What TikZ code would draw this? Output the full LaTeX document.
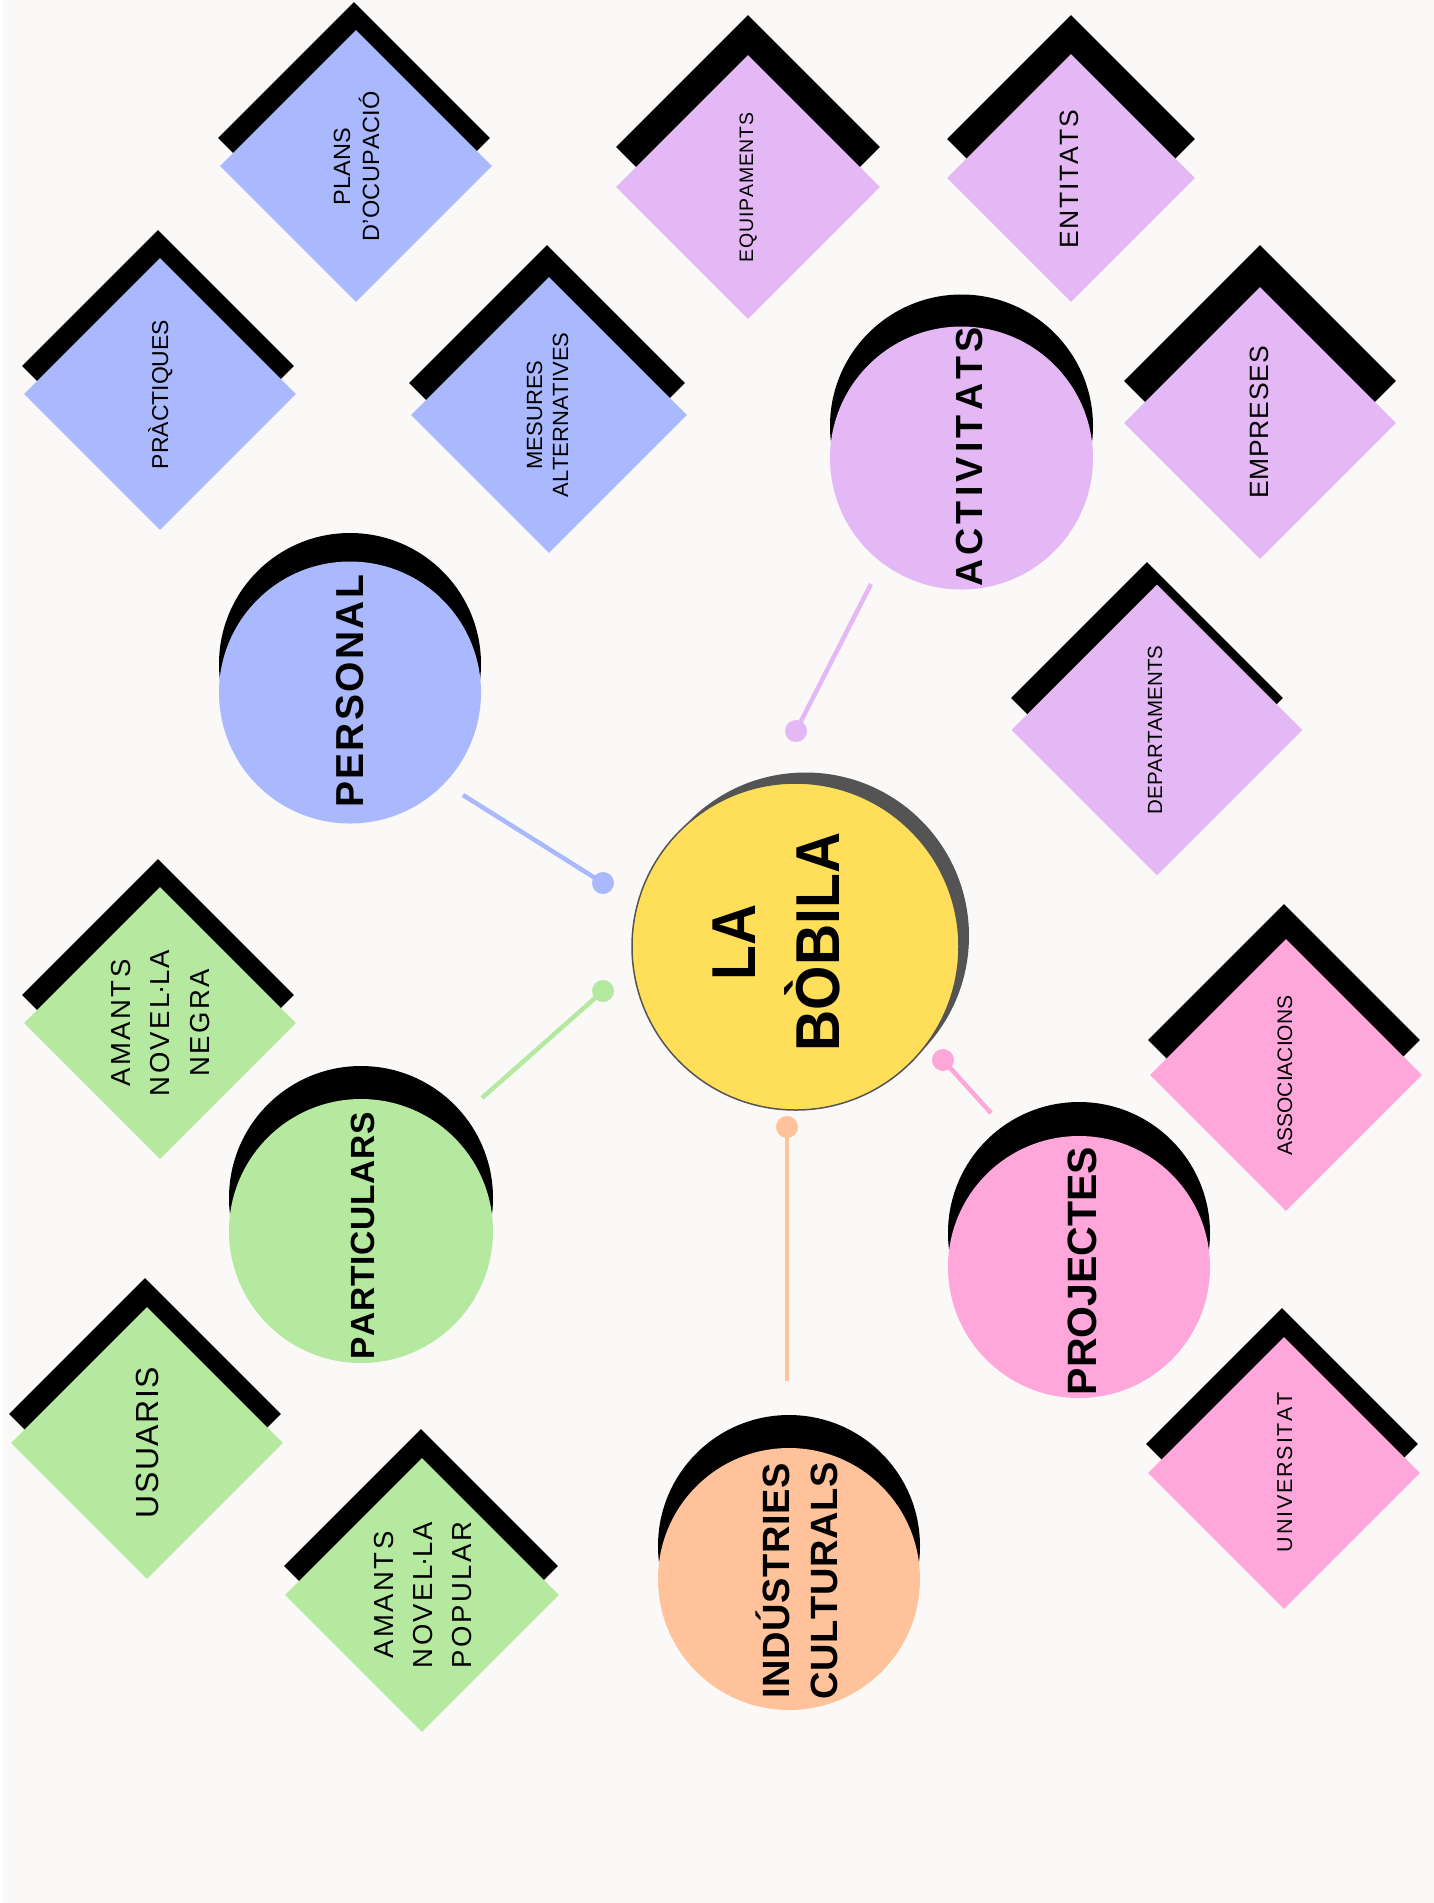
\documentclass[tikz,border=0pt]{standalone}
\usepackage{fontspec}
\setmainfont{Liberation Sans}
\usetikzlibrary{shapes.geometric}
\definecolor{bgc}{HTML}{FAF9F7}
\definecolor{cblue}{HTML}{AAB9FE}
\definecolor{clil}{HTML}{E4B8F4}
\definecolor{cgrn}{HTML}{B4E99F}
\definecolor{cpnk}{HTML}{FFA7DB}
\definecolor{cpch}{HTML}{FFC29A}
\definecolor{cyel}{HTML}{FFDE59}
\definecolor{cdark}{HTML}{545454}
\makeatletter
\newcommand\trk[2]{\def\trk@k{#1}\trk@a#2\trk@end}
\def\trk@end{\trk@end}
\def\trk@a#1{\ifx#1\trk@end\else#1\expandafter\trk@b\fi}
\def\trk@b#1{\ifx#1\trk@end\else\kern\trk@k\relax#1\expandafter\trk@b\fi}
\makeatother
\newcommand\fs[1]{\fontsize{#1}{#1}\selectfont}
\newcommand\novella[1]{\trk{#1}{NOVEL}\kern-0.5pt·\kern-0.5pt\trk{#1}{LA}}
\tikzset{
  dia/.style 2 args={diamond, aspect=1, inner sep=0pt, minimum width=#1, minimum height=#1, fill=#2, draw=none},
  blob/.style 2 args={circle, inner sep=0pt, minimum size=#1, fill=#2, draw=none},
  lbl/.style={inner sep=0pt, anchor=base, rotate=90, text=black},
  conn/.style={line width=2.25pt, draw=#1},
  dotn/.style={circle, inner sep=0pt, minimum size=11pt, fill=#1, draw=none}
}
\begin{document}
\begin{tikzpicture}[x=0.5pt,y=-0.5pt]
\useasboundingbox (0,0) rectangle (1434,1903);
\fill[white] (0,0) rectangle (1434,1903);
\fill[bgc] (3,0) rectangle (1434,1903);

% ---------- diamonds: black shadows ----------
\node[dia={136pt}{black}] (plans-sh) at (354,138) {};
\node[dia={136pt}{black}] (prac-sh) at (158,366) {};
\node[dia={138pt}{black}] (mes-sh) at (547,383) {};
\node[dia={132pt}{black}] (equip-sh) at (748,147) {};
\node[dia={124pt}{black}] (entit-sh) at (1071,139) {};
\node[dia={136pt}{black}] (empr-sh) at (1260,381) {};
\node[dia={136pt}{black}] (dept-sh) at (1147,698) {};
\node[dia={136pt}{black}] (assoc-sh) at (1284,1040) {};
\node[dia={136pt}{black}] (univ-sh) at (1282,1444) {};
\node[dia={136pt}{black}] (usu-sh) at (145,1414) {};
\node[dia={136pt}{black}] (negra-sh) at (158,995) {};
\node[dia={137pt}{black}] (popular-sh) at (421,1566) {};

% ---------- diamonds: coloured ----------
\node[dia={136pt}{cblue}] (plans) at (356,166) {};
\node[dia={136pt}{cblue}] (prac) at (160,394) {};
\node[dia={138pt}{cblue}] (mes) at (549,415) {};
\node[dia={132pt}{clil}] (equip) at (748,187) {};
\node[dia={124pt}{clil}] (entit) at (1071,178) {};
\node[dia={136pt}{clil}] (empr) at (1260,423) {};
\node[dia={145.5pt}{clil}] (dept) at (1157,730) {};
\node[dia={136pt}{cpnk}] (assoc) at (1286,1075) {};
\node[dia={136pt}{cpnk}] (univ) at (1284,1473) {};
\node[dia={136pt}{cgrn}] (usu) at (147,1443) {};
\node[dia={136pt}{cgrn}] (negra) at (160,1023) {};
\node[dia={137pt}{cgrn}] (popular) at (422,1595) {};

% ---------- circles ----------
\node[blob={131pt}{black}] (personal-sh) at (350,664) {};
\node[blob={131pt}{cblue}] (personal) at (350,692.5) {};
\node[blob={131.5pt}{black}] (activ-sh) at (961.5,426) {};
\node[blob={131.5pt}{clil}] (activ) at (961.5,458) {};
\node[blob={132pt}{black}] (partic-sh) at (361,1198) {};
\node[blob={132pt}{cgrn}] (partic) at (361,1231) {};
\node[blob={131pt}{black}] (proj-sh) at (1079,1233) {};
\node[blob={131pt}{cpnk}] (proj) at (1079,1267) {};
\node[blob={131pt}{black}] (ind-sh) at (789,1546) {};
\node[blob={131pt}{cpch}] (ind) at (789,1579) {};
\node[blob={163.5pt}{cdark}] (center-sh) at (805.5,936) {};
\node[circle, inner sep=0pt, minimum size=163.5pt, fill=cyel, draw=cdark, line width=0.75pt] (center) at (795.5,946.5) {};

% ---------- connectors ----------
\coordinate (personal-end) at (463,795);
\node[dotn=cblue] (personal-dot) at (603,883) {};
\draw[conn=cblue] (personal-end) -- (personal-dot.center);
\coordinate (partic-end) at (482,1098);
\node[dotn=cgrn] (partic-dot) at (603,991) {};
\draw[conn=cgrn] (partic-end) -- (partic-dot.center);
\coordinate (activ-end) at (871,584);
\node[dotn=clil] (activ-dot) at (796,731) {};
\draw[conn=clil] (activ-end) -- (activ-dot.center);
\coordinate (proj-end) at (991,1113);
\node[dotn=cpnk] (proj-dot) at (943,1060) {};
\draw[conn=cpnk] (proj-end) -- (proj-dot.center);
\coordinate (ind-end) at (787,1381);
\node[dotn=cpch] (ind-dot) at (787,1127) {};
\draw[conn=cpch] (ind-end) -- (ind-dot.center);

% ---------- labels: diamonds ----------
\node[lbl, font=\fs{11.75pt}] (t-plans1) at (350,166.5) {\trk{0.15pt}{PLANS}};
\node[lbl, font=\fs{11.75pt}] (t-plans2) at (379,166.5) {\trk{0.15pt}{D'OCUPACIÓ}};
\node[lbl, font=\fs{11.5pt}] (t-prac) at (168,394.5) {\trk{0pt}{PRÀCTIQUES}};
\node[lbl, font=\fs{11pt}] (t-mes1) at (542,415) {\trk{0pt}{MESURES}};
\node[lbl, font=\fs{11pt}] (t-mes2) at (568,415) {\trk{0pt}{ALTERNATIVES}};
\node[lbl, font=\fs{9.75pt}] (t-equip) at (753,187.5) {\trk{0.4pt}{EQUIPAMENTS}};
\node[lbl, font=\fs{13.25pt}] (t-entit) at (1078,179) {\trk{0.75pt}{ENTITATS}};
\node[lbl, font=\fs{13.25pt}] (t-empr) at (1268,422.5) {\trk{0.4pt}{EMPRESES}};
\node[lbl, font=\fs{10.25pt}] (t-dept) at (1162,730) {\trk{0pt}{DEPARTAMENTS}};
\node[lbl, font=\fs{10.5pt}] (t-assoc) at (1292,1075.5) {\trk{0pt}{ASSOCIACIONS}};
\node[lbl, font=\fs{10.75pt}] (t-univ) at (1292,1472) {\trk{0.9pt}{UNIVERSITAT}};
\node[lbl, font=\fs{16pt}] (t-usu) at (158,1442.5) {\trk{0.75pt}{USUARIS}};
\node[lbl, font=\fs{13.75pt}] (t-negra1) at (130,1023) {\trk{1.25pt}{AMANTS}};
\node[lbl, font=\fs{13.75pt}] (t-negra2) at (169.5,1023) {\novella{1.25pt}};
\node[lbl, font=\fs{13.75pt}] (t-negra3) at (209,1023) {\trk{1.25pt}{NEGRA}};
\node[lbl, font=\fs{13.75pt}] (t-pop1) at (393,1595) {\trk{1.25pt}{AMANTS}};
\node[lbl, font=\fs{13.75pt}] (t-pop2) at (432,1595) {\novella{1.25pt}};
\node[lbl, font=\fs{13.75pt}] (t-pop3) at (471,1595) {\trk{1.25pt}{POPULAR}};

% ---------- labels: circles ----------
\node[lbl, font=\bfseries\fs{19.5pt}] (t-personal) at (363,691.5) {\trk{1.15pt}{PERSONAL}};
\node[lbl, font=\bfseries\fs{18.85pt}] (t-activ) at (982,457) {\trk{2.1pt}{ACTIVITATS}};
\node[lbl, font=\bfseries\fs{16.75pt}] (t-partic) at (374,1236) {\trk{0.35pt}{PARTICULARS}};
\node[lbl, font=\bfseries\fs{20.5pt}] (t-proj) at (1096,1271) {\trk{0pt}{PROJECTES}};
\node[lbl, font=\bfseries\fs{19pt}] (t-ind1) at (789,1581) {\trk{0.3pt}{INDÚSTRIES}};
\node[lbl, font=\bfseries\fs{19pt}] (t-ind2) at (837,1581) {\trk{0.3pt}{CULTURALS}};
\node[lbl, font=\bfseries\fs{31pt}] (t-la) at (755,942) {\scalebox{0.92}[1]{LA}};
\node[lbl, font=\bfseries\fs{31pt}] (t-bobila) at (839,942) {\scalebox{0.92}[1]{BÒBILA}};
\end{tikzpicture}
\end{document}
